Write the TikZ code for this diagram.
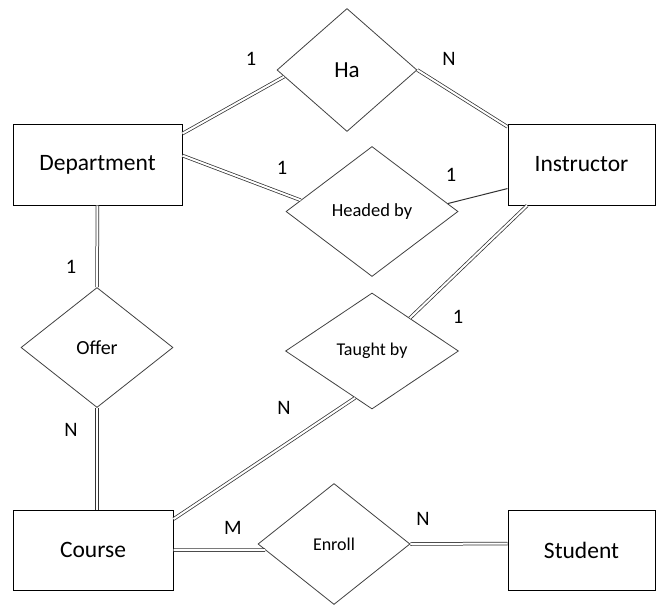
\documentclass[tikz,border=0pt]{standalone}
\usepackage{fontspec}
\setmainfont{Carlito}
\usetikzlibrary{shapes.geometric}

\begin{document}
\begin{tikzpicture}[x=1pt, y=-1pt,
		entity/.style={draw, line width=1pt, inner sep=0pt, font=\fontsize{23.5}{27}\selectfont},
		rel/.style={draw, diamond, line width=0.8pt, draw=black!75, inner sep=0pt, aspect=1.2},
		dbl/.style={draw=black!80, double, double distance=2pt, line width=0.75pt},
		sgl/.style={draw=black!80, line width=1pt},
		card/.style={font=\fontsize{20.5}{24}\selectfont}]
			\useasboundingbox (0,0) rectangle (656,605);
			% entities
			\node [entity, minimum width=169pt, minimum height=81pt] (dept) at (97.5,164.5) {Department};
			\node [entity, minimum width=147pt, minimum height=81pt] (instr) at (581.5,164.5) {Instructor};
			\node [entity, minimum width=160pt, minimum height=80pt] (course) at (93,550) {Course};
			\node [entity, minimum width=147pt, minimum height=80pt] (student) at (581.5,550) {Student};
			% relationships
			\node [rel, minimum width=140pt, minimum height=123pt, font=\fontsize{23}{27}\selectfont] (ha) at (347,70) {Ha};
			\node [rel, minimum width=172pt, minimum height=130pt, font=\fontsize{18.5}{22}\selectfont] (headed) at (372,211.5) {Headed by};
			\node [rel, minimum width=152pt, minimum height=120pt, font=\fontsize{20}{23}\selectfont] (offer) at (97,347.5) {Offer};
			\node [rel, minimum width=173pt, minimum height=116pt, font=\fontsize{18}{22}\selectfont] (taught) at (372,351) {Taught by};
			\node [rel, minimum width=152pt, minimum height=121pt, font=\fontsize{18}{21}\selectfont] (enroll) at (334,544) {Enroll};
			% links
			\draw [dbl] (dept.20) -- (ha.186);
			\draw [dbl] (ha.east) -- (instr.153);
			\draw [dbl] (dept.6) -- (headed.171);
			\draw [sgl] (headed.6) -- (instr.198);
			\draw [dbl] (dept.south) -- (offer.north);
			\draw [dbl] (offer.south) -- (offer.south |- course.north);
			\draw [dbl] (instr.217) -- (taught.41);
			\draw [dbl] (taught.250) -- (course.21);
			\draw [dbl] (course.east) -- (enroll.185);
			\draw [dbl] (enroll.east) -- (student.175);
			% cardinalities
			\node [card] (c1) at (251,59) {1};
			\node [card] (c2) at (449,59) {N};
			\node [card] (c3) at (282,168) {1};
			\node [card] (c4) at (451,175) {1};
			\node [card] (c5) at (71,267) {1};
			\node [card] (c6) at (71,430) {N};
			\node [card] (c7) at (458,317) {1};
			\node [card] (c8) at (284,408) {N};
			\node [card] (c9) at (233,528) {M};
			\node [card] (c10) at (423,519) {N};
\end{tikzpicture}
\end{document}
